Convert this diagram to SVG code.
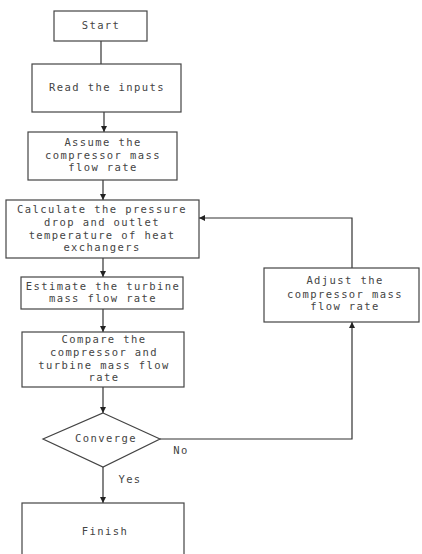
<svg xmlns="http://www.w3.org/2000/svg" width="422" height="554" viewBox="0 0 422 554">
<defs>
<style>
.box{fill:#fff;stroke:#444;stroke-width:1.2}
.t{font-family:"DejaVu Sans Mono","Liberation Mono",monospace;font-size:10.5px;letter-spacing:1.4px;fill:#444;text-anchor:middle}
.c{fill:none;stroke:#333;stroke-width:1.2}
</style>
<marker id="ah" markerUnits="userSpaceOnUse" markerWidth="7" markerHeight="7" refX="6" refY="3" orient="auto">
<path d="M0,0 L6,3 L0,6 z" fill="#222"/>
</marker>
</defs>
<rect width="422" height="554" fill="#fff"/>
<g id="connectors">
<path class="c" d="M101,41 V64"/>
<path class="c" d="M104,112 V132" marker-end="url(#ah)"/>
<path class="c" d="M103,180 V200" marker-end="url(#ah)"/>
<path class="c" d="M103,258 V277" marker-end="url(#ah)"/>
<path class="c" d="M103,309 V332" marker-end="url(#ah)"/>
<path class="c" d="M103,387 V413" marker-end="url(#ah)"/>
<path class="c" d="M103,467 V503" marker-end="url(#ah)"/>
<path class="c" d="M160,439 H352 V322" marker-end="url(#ah)"/>
<path class="c" d="M352,268 V218 H199" marker-end="url(#ah)"/>
<text class="t" x="181" y="454">No</text>
<text class="t" x="130" y="483">Yes</text>
</g>
<g id="start">
<rect class="box" x="54" y="11" width="93" height="30"/>
<text class="t" x="101" y="29">Start</text>
</g>
<g id="read">
<rect class="box" x="32" y="64" width="149" height="48"/>
<text class="t" x="107" y="91">Read the inputs</text>
</g>
<g id="assume">
<rect class="box" x="28" y="132" width="149" height="48"/>
<text class="t" x="103" y="146">Assume the</text>
<text class="t" x="103" y="159">compressor mass</text>
<text class="t" x="103" y="171">flow rate</text>
</g>
<g id="calculate">
<rect class="box" x="6" y="200" width="193" height="58"/>
<text class="t" x="102" y="213">Calculate the pressure</text>
<text class="t" x="102" y="226">drop and outlet</text>
<text class="t" x="102" y="239">temperature of heat</text>
<text class="t" x="102" y="251">exchangers</text>
</g>
<g id="estimate">
<rect class="box" x="21" y="277" width="162" height="32"/>
<text class="t" x="103" y="290">Estimate the turbine</text>
<text class="t" x="103" y="302">mass flow rate</text>
</g>
<g id="compare">
<rect class="box" x="22" y="332" width="162" height="55"/>
<text class="t" x="104" y="343">Compare the</text>
<text class="t" x="104" y="356">compressor and</text>
<text class="t" x="104" y="369">turbine mass flow</text>
<text class="t" x="104" y="381">rate</text>
</g>
<g id="converge">
<polygon class="box" points="103,413 160,439 103,467 43,439"/>
<text class="t" x="106" y="442">Converge</text>
</g>
<g id="finish">
<rect class="box" x="22" y="503" width="162" height="60"/>
<text class="t" x="105" y="535">Finish</text>
</g>
<g id="adjust">
<rect class="box" x="264" y="268" width="155" height="54"/>
<text class="t" x="345" y="284">Adjust the</text>
<text class="t" x="345" y="298">compressor mass</text>
<text class="t" x="345" y="310">flow rate</text>
</g>
</svg>
